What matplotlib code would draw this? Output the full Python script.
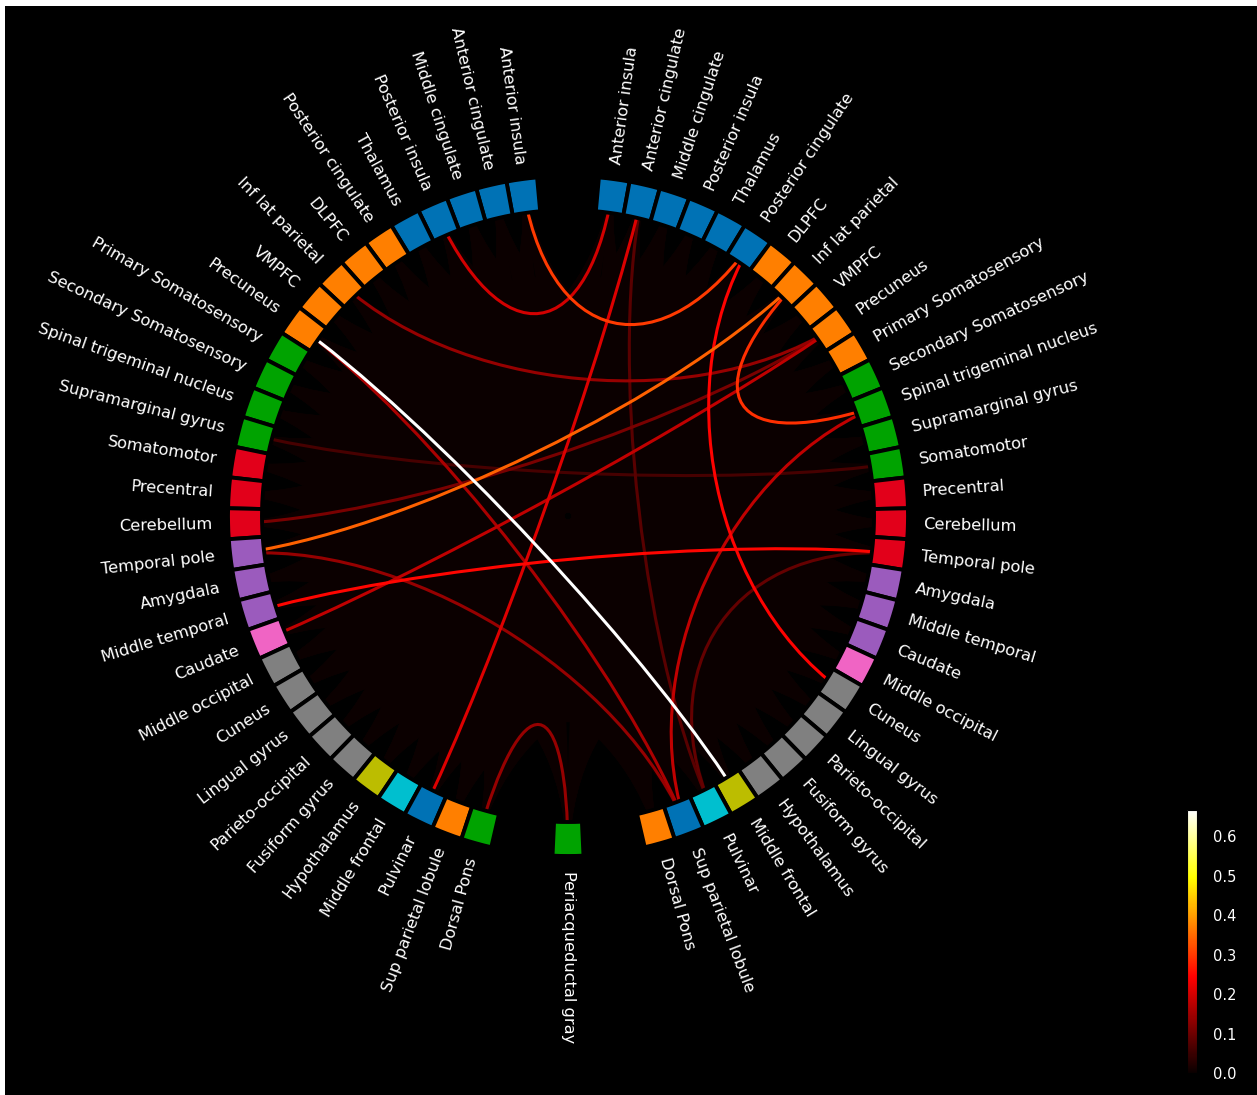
import numpy as np
import matplotlib.pyplot as plt
from matplotlib.path import Path
from matplotlib.patches import PathPatch, Rectangle
from matplotlib.collections import PatchCollection
from matplotlib.colors import Normalize
from matplotlib import cm

# region names, same list on both hemispheres
region_names = ['Anterior insula', 'Anterior cingulate', 'Middle cingulate',
                'Posterior insula', 'Thalamus', 'Posterior cingulate', 'DLPFC',
                'Inf lat parietal', 'VMPFC', 'Precuneus', 'Primary Somatosensory',
                'Secondary Somatosensory', 'Spinal trigeminal nucleus',
                'Supramarginal gyrus', 'Somatomotor', 'Precentral', 'Cerebellum',
                'Temporal pole', 'Amygdala', 'Middle temporal', 'Caudate',
                'Middle occipital', 'Cuneus', 'Lingual gyrus', 'Parieto-occipital',
                'Fusiform gyrus', 'Hypothalamus', 'Middle frontal', 'Pulvinar',
                'Sup parietal lobule', 'Dorsal Pons']
midline_name = 'Periacqueductal gray'

# node colours
BLUE, ORANGE, GREEN, RED = '#0072b5', '#ff7f00', '#00a300', '#e2001a'
PURPLE, PINK, GRAY, OLIVE, CYAN = '#9b5bbd', '#f064c4', '#808080', '#bcbd00', '#00bfcf'
left_colors = ([BLUE] * 5 + [ORANGE] * 5 + [GREEN] * 4 + [RED] * 3 + [PURPLE] * 3
               + [PINK] + [GRAY] * 5 + [OLIVE, CYAN, BLUE, ORANGE, GREEN])
right_colors = ([BLUE] * 6 + [ORANGE] * 5 + [GREEN] * 4 + [RED] * 3 + [PURPLE] * 3
                + [PINK] + [GRAY] * 5 + [OLIVE, CYAN, BLUE, ORANGE])
midline_color = GREEN

# strongest connections (node a, node b, strength)
con_a = ['Precuneus-lh', 'Temporal pole-lh', 'Anterior insula-lh',
         'Inf lat parietal-rh', 'Middle temporal-lh', 'Posterior cingulate-rh',
         'Anterior cingulate-rh', 'Posterior insula-lh', 'Caudate-lh',
         'Spinal trigeminal nucleus-rh', 'Precuneus-lh', 'Temporal pole-lh',
         'Inf lat parietal-lh', 'Dorsal Pons-lh', 'Cerebellum-lh',
         'Temporal pole-rh', 'Anterior cingulate-rh', 'Supramarginal gyrus-lh']
con_b = ['Middle frontal-rh', 'Inf lat parietal-rh', 'Posterior cingulate-rh',
         'Spinal trigeminal nucleus-rh', 'Temporal pole-rh', 'Cuneus-rh',
         'Pulvinar-lh', 'Anterior insula-rh', 'Precuneus-rh',
         'Sup parietal lobule-rh', 'Sup parietal lobule-rh', 'Sup parietal lobule-rh',
         'Precuneus-rh', midline_name, 'Precuneus-rh',
         'Pulvinar-rh', 'Pulvinar-rh', 'Somatomotor-rh']
con_strength = [0.665, 0.34, 0.30, 0.29, 0.25, 0.245, 0.21, 0.20, 0.18,
                0.18, 0.16, 0.14, 0.14, 0.14, 0.11, 0.09, 0.08, 0.06]
baseline_strength = 0.0   # all remaining pairs
vmin, vmax = 0.0, 0.667

# layout: 69 slots round the circle, two empty slots at the top and either side of PAG
n_slots = 69
step = 360.0 / n_slots
left_deg = 90 + 1.5 * step + step * np.arange(len(region_names))
right_deg = (90 - 1.5 * step - step * np.arange(len(region_names))) % 360

node_keys = ([n + '-lh' for n in region_names] + [midline_name]
             + [n + '-rh' for n in region_names])
node_labels = region_names + [midline_name] + region_names
node_deg = np.concatenate([left_deg, [270.0], right_deg])
node_colors = left_colors + [midline_color] + right_colors
index = {k: i for i, k in enumerate(node_keys)}


def chord(i, j):
    t0, t1 = np.radians(node_deg[i]), np.radians(node_deg[j])
    return Path([(t0, 10), (t0, 5), (t1, 5), (t1, 10)],
                [Path.MOVETO, Path.CURVE4, Path.CURVE4, Path.CURVE4])


fig = plt.figure(figsize=(12.57, 10.95), dpi=100, facecolor='white')
fig.add_artist(Rectangle((5 / 1257, 0), 1, 1 - 6 / 1095, transform=fig.transFigure,
                         facecolor='black', edgecolor='none', zorder=-10))

ax = fig.add_axes([0.15434, 0.18721, 0.59507, 0.68311], polar=True)
ax.set_facecolor('black')
ax.spines['polar'].set_visible(False)
ax.set_xticks([])
ax.set_yticks([])
ax.grid(False)

cmap = plt.get_cmap('hot')
norm = Normalize(vmin, vmax)
lw = 2.2

# faint background connections between every other pair
strong = {frozenset((index[a], index[b])) for a, b in zip(con_a, con_b)}
n_nodes = len(node_keys)
bg = [PathPatch(chord(i, j)) for i in range(n_nodes) for j in range(i + 1, n_nodes)
      if frozenset((i, j)) not in strong]
ax.add_collection(PatchCollection(bg, facecolor='none', edgecolor=cmap(norm(baseline_strength)),
                                  linewidth=lw, zorder=1), autolim=False)

# strong connections, weakest first so the strongest end up on top
for k in np.argsort(con_strength):
    p = PathPatch(chord(index[con_a[k]], index[con_b[k]]), fill=False,
                  edgecolor=cmap(norm(con_strength[k])), linewidth=lw, zorder=2)
    ax.add_patch(p)

# node ring
ax.bar(np.radians(node_deg), np.ones(n_nodes), width=np.radians(step), bottom=9,
       color=node_colors, edgecolor='black', linewidth=2.8, align='center', zorder=3)
ax.set_ylim(0, 11)

for name, deg in zip(node_labels, node_deg):
    if 90 < deg < 270:
        rot, ha = deg + 180, 'right'
    else:
        rot, ha = deg, 'left'
    ax.text(np.radians(deg), 10.45, name, rotation=rot, rotation_mode='anchor',
            ha=ha, va='center', color='white', fontsize=11.7)

# colour bar
cax = fig.add_axes([0.9443, 0.0201, 0.0080, 0.2402])
sm = cm.ScalarMappable(norm=norm, cmap=cmap)
cb = fig.colorbar(sm, cax=cax, ticks=np.arange(0, 0.65, 0.1))
cb.outline.set_edgecolor('black')
cax.yaxis.set_major_formatter('{x:.1f}')
cax.tick_params(colors='black', labelcolor='white', labelsize=10.5, pad=8)

fig.savefig('out.png', dpi=100, facecolor=fig.get_facecolor())
